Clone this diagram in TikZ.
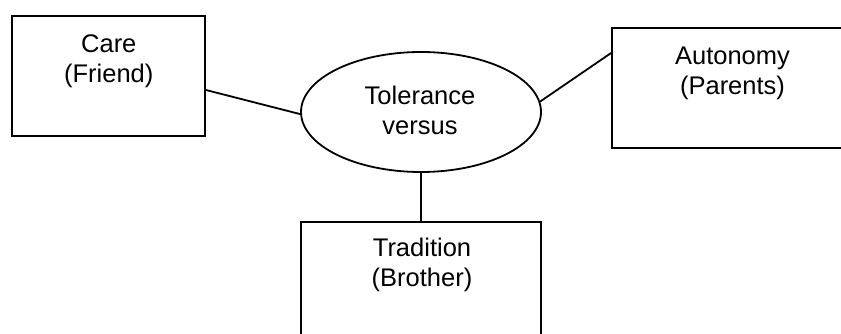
\documentclass[tikz,border=0pt]{standalone}
\usepackage{fontspec}
\setmainfont{Liberation Sans}
\usetikzlibrary{shapes.geometric}
\begin{document}
\begin{tikzpicture}[x=1pt, y=-1pt,
  frame/.style={draw=black, line width=1.8pt, inner sep=0pt},
  caption/.style={align=center, inner sep=0pt, anchor=north,
    font=\fontsize{25.5}{30}\selectfont},
  link/.style={draw=black, line width=1.8pt}]
  \path[use as bounding box] (0,0) rectangle (841,334);

  % boxes and the central ellipse
  \node[frame, minimum width=193pt, minimum height=120pt] (care) at (108.5,76) {};
  \node[frame, minimum width=241pt, minimum height=120pt] (aut) at (732.5,88) {};
  \node[frame, minimum width=240pt, minimum height=120pt] (trad) at (421,282) {};
  \node[frame, ellipse, minimum width=240pt, minimum height=120pt] (tol) at (421,112) {};

  % labels
  \node[caption] (caretext) at (108.8,34) {Care\\(Friend)};
  \node[caption] (auttext) at (732.5,47) {Autonomy\\(Parents)};
  \node[caption] (tradtext) at (422,238) {Tradition\\(Brother)};
  \node[caption] (toltext) at (420,86) {Tolerance\\versus};

  % connectors
  \draw[link] ([yshift=-14pt]care.east) -- (tol.181);
  \draw[link] (tol.5) -- ([yshift=35pt]aut.west);
  \draw[link] (tol.south) -- (trad.north);
\end{tikzpicture}
\end{document}
